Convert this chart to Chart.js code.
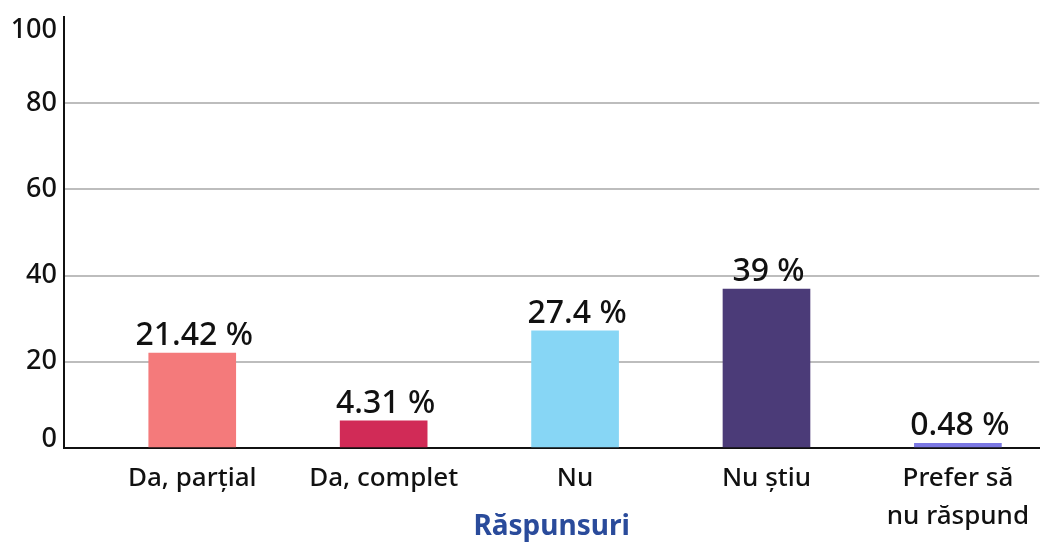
<!DOCTYPE html>
<html>
<head>
<meta charset="utf-8">
<script src="https://cdn.jsdelivr.net/npm/chart.js@4/dist/chart.umd.min.js"></script>
<style>
  html, body { margin: 0; padding: 0; background: #fff; }
  #wrap { width: 1041px; height: 545px; }
</style>
</head>
<body>
<div id="wrap"><canvas id="chart"></canvas></div>
<script>
const categories = ['Da, parțial', 'Da, complet', 'Nu', 'Nu știu', ['Prefer să', 'nu răspund']];
const values = [22, 6.3, 27.2, 36.9, 1.1];
const valueLabels = ['21.42 %', '4.31 %', '27.4 %', '39 %', '0.48 %'];
const yTicks = [0, 20, 40, 60, 80, 100];
const barColors = ['#F47A7B', '#D12B57', '#87D6F5', '#4B3B78', '#7B78E3'];

const FONT = "'Noto Sans', sans-serif";

// value text above each bar
const barLabels = {
  id: 'barLabels',
  afterDatasetsDraw(chart) {
    const ctx = chart.ctx;
    const meta = chart.getDatasetMeta(0);
    ctx.save();
    ctx.font = '500 32px ' + FONT;
    ctx.fillStyle = '#111';
    ctx.textAlign = 'center';
    ctx.textBaseline = 'alphabetic';
    meta.data.forEach((bar, i) => {
      ctx.fillText(valueLabels[i], bar.x + 2, bar.y - 8);
    });
    ctx.restore();
  }
};

// y tick labels, kept inside the plot height at both ends
const yLabels = {
  id: 'yLabels',
  afterDraw(chart) {
    const ctx = chart.ctx;
    const y = chart.scales.y;
    ctx.save();
    ctx.font = '500 27px ' + FONT;
    ctx.fillStyle = '#111';
    ctx.textAlign = 'right';
    ctx.textBaseline = 'middle';
    yTicks.forEach(v => {
      let py = y.getPixelForValue(v);
      py = Math.min(Math.max(py, y.top + 13), y.bottom - 9);
      ctx.fillText(String(v), y.right - 7, py);
    });
    ctx.restore();
  }
};

new Chart(document.getElementById('chart'), {
  type: 'bar',
  data: {
    datasets: [{
      data: values.map((v, i) => ({ x: i, y: v })),
      backgroundColor: barColors,
      borderWidth: 0,
      barThickness: 87
    }]
  },
  options: {
    responsive: true,
    maintainAspectRatio: false,
    animation: false,
    layout: { padding: { top: 17, right: 0, left: 0, bottom: 0 } },
    plugins: {
      legend: { display: false },
      tooltip: { enabled: false }
    },
    scales: {
      x: {
        type: 'linear',
        offset: false,
        min: -0.67,
        max: 4.425,
        afterBuildTicks: s => { s.ticks = categories.map((_, i) => ({ value: i })); },
        afterFit: s => { s.height = 97; },
        grid: { display: false, drawTicks: false, offset: false },
        border: { color: '#111', width: 2 },
        ticks: {
          autoSkip: false,
          maxRotation: 0,
          padding: 12,
          color: '#111',
          font: { family: FONT, size: 26, weight: '500', lineHeight: 1.45 },
          callback: v => categories[v]
        },
        title: {
          display: true,
          text: 'Răspunsuri',
          color: '#2A4B9B',
          font: { family: FONT, size: 28, weight: 'bold' },
          padding: { top: 0, bottom: 1 }
        }
      },
      y: {
        min: 0,
        max: 100,
        afterBuildTicks: s => { s.ticks = yTicks.map(v => ({ value: v })); },
        afterFit: s => { s.width = 64; },
        ticks: { display: false },
        grid: {
          drawTicks: false,
          lineWidth: 2,
          color: c => (c.tick.value === 0 || c.tick.value === 100) ? 'rgba(0,0,0,0)' : '#BDBDBD'
        },
        border: { color: '#111', width: 2 }
      }
    }
  },
  plugins: [barLabels, yLabels]
});
</script>
</body>
</html>
